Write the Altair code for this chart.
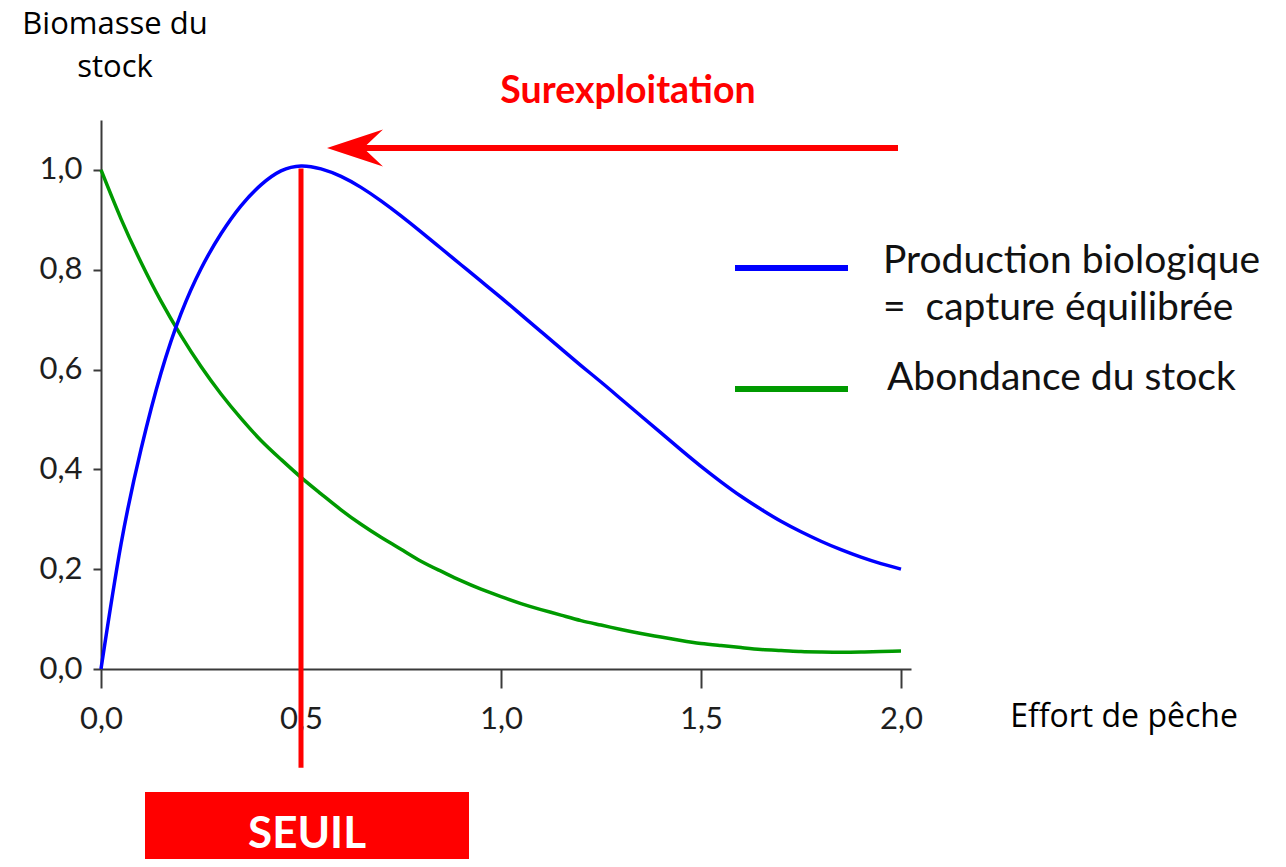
import altair as alt
import pandas as pd

# ---- data (effort step 0.05) ----
effort = [round(0.05 * i, 2) for i in range(41)]
production = [0.0, 0.25, 0.44, 0.593, 0.712, 0.802, 0.872, 0.928, 0.97, 0.998,
              1.008, 1.002, 0.987, 0.965, 0.938, 0.908, 0.876, 0.843, 0.81, 0.777,
              0.744, 0.71, 0.676, 0.642, 0.608, 0.575, 0.541, 0.507, 0.473, 0.439,
              0.406, 0.375, 0.346, 0.32, 0.296, 0.275, 0.256, 0.239, 0.224, 0.211,
              0.2]
abondance = [1.0, 0.902, 0.815, 0.737, 0.668, 0.606, 0.551, 0.502, 0.458, 0.42,
             0.384, 0.351, 0.319, 0.29, 0.264, 0.24, 0.216, 0.196, 0.177, 0.16,
             0.145, 0.131, 0.119, 0.108, 0.097, 0.088, 0.079, 0.071, 0.064, 0.057,
             0.051, 0.047, 0.043, 0.039, 0.037, 0.035, 0.034, 0.0335, 0.034, 0.035,
             0.036]

x_ticks = [0.0, 0.5, 1.0, 1.5, 2.0]
y_ticks = [0.0, 0.2, 0.4, 0.6, 0.8, 1.0]
seuil_effort = [0.5]

legend_labels = ["Production biologique", "=\u00a0 capture équilibrée", "Abondance du stock"]
y_title = ["Biomasse du", "stock"]
x_title = "Effort de pêche"
arrow_label = "Surexploitation"
seuil_label = "SEUIL"

# ---- layout ----
W, H = 810, 549
X_DOMAIN = [0, 2.025]
Y_DOMAIN = [0, 1.1]
PAD = {"left": 93, "top": 112, "right": 354, "bottom": 190}

BLUE = "#0000ff"
GREEN = "#009a00"
RED = "#ff0000"
AXIS_C = "#3a3a3a"

label_expr = "replace(format(datum.value, '.1f'), '.', ',')"
xs = alt.Scale(domain=X_DOMAIN, nice=False, zero=False)
ys = alt.Scale(domain=Y_DOMAIN, nice=False, zero=False)
x_axis = alt.Axis(values=x_ticks, labelExpr=label_expr, title=None, grid=False,
                  domainColor=AXIS_C, domainWidth=2, tickColor=AXIS_C, tickWidth=2,
                  tickSize=19, labelFont="Lato", labelFontSize=31, labelColor="#1e1e1e",
                  labelPadding=40, labelBaseline="alphabetic", labelFlush=False)
y_axis = alt.Axis(values=y_ticks, labelExpr=label_expr, title=None, grid=False,
                  domainColor=AXIS_C, domainWidth=2, tickColor=AXIS_C, tickWidth=2,
                  tickSize=8, labelFont="Lato", labelFontSize=31, labelColor="#1e1e1e",
                  labelPadding=11, labelFlush=False)

df_blue = pd.DataFrame({"effort": effort, "valeur": production})
df_green = pd.DataFrame({"effort": effort, "valeur": abondance})
df_seuil = pd.DataFrame({"effort": seuil_effort, "haut": [1.003], "bas": [-0.198]})

X = alt.X("effort:Q", scale=xs, axis=x_axis)
Y = alt.Y("valeur:Q", scale=ys, axis=y_axis)

green_line = alt.Chart(df_green).mark_line(
    color=GREEN, strokeWidth=3.5, interpolate="natural").encode(x=X, y=Y)
blue_line = alt.Chart(df_blue).mark_line(
    color=BLUE, strokeWidth=3.5, interpolate="natural").encode(x=X, y=Y)

seuil_rule = alt.Chart(df_seuil).mark_rule(color=RED, strokeWidth=5).encode(
    x=X,
    y=alt.Y("haut:Q", scale=ys, axis=y_axis),
    y2="bas:Q",
)

# ---- annotations (pixel positions relative to the plot area) ----
base = alt.Chart(pd.DataFrame({"a": [0]}))

def txt(text, x, y, size, font, color="black", weight="normal", align="center"):
    return base.mark_text(text=text, font=font, fontSize=size, color=color,
                          fontWeight=weight, align=align, baseline="alphabetic").encode(
        x=alt.value(x), y=alt.value(y))

# arrow "Surexploitation"
shaft = base.mark_rule(color=RED, strokeWidth=6).encode(
    x=alt.value(262), x2=alt.value(797), y=alt.value(28))
head = base.mark_point(shape="M-1,0 L1,-0.66 L0.3,0 L1,0.66 Z", size=3136,
                       filled=True, color=RED, opacity=1, strokeWidth=0).encode(
    x=alt.value(254), y=alt.value(28))

# legend
leg_blue = base.mark_rule(color=BLUE, strokeWidth=6).encode(
    x=alt.value(634), x2=alt.value(747), y=alt.value(148))
leg_green = base.mark_rule(color=GREEN, strokeWidth=6).encode(
    x=alt.value(634), x2=alt.value(747), y=alt.value(269))

# SEUIL box
seuil_box = base.mark_rect(color=RED).encode(
    x=alt.value(44), x2=alt.value(368), y=alt.value(672), y2=alt.value(780))

layers = [
    green_line,
    seuil_rule,
    blue_line,
    shaft, head,
    txt(arrow_label, 527, -17, 37.5, "Lato", RED, "bold"),
    leg_blue, leg_green,
    txt(legend_labels[0], 782, 153, 39, "Lato", "#111", align="left"),
    txt(legend_labels[1], 782, 200, 39, "Lato", "#111", align="left"),
    txt(legend_labels[2], 786, 270, 39, "Lato", "#111", align="left"),
    txt(y_title[0], 14, -86, 31, "Open Sans"),
    txt(y_title[1], 14, -43, 31, "Open Sans"),
    txt(x_title, 1023, 607, 32, "Open Sans"),
    seuil_box,
    txt(seuil_label, 206, 728, 44, "Lato", "white", "bold"),
]

chart = alt.layer(*layers).properties(
    width=W, height=H,
    autosize=alt.AutoSizeParams(type="none"),
    padding=PAD,
    background="white",
).configure_view(stroke=None)

chart.save("out.html", embed_options={"renderer": "svg", "actions": False})
